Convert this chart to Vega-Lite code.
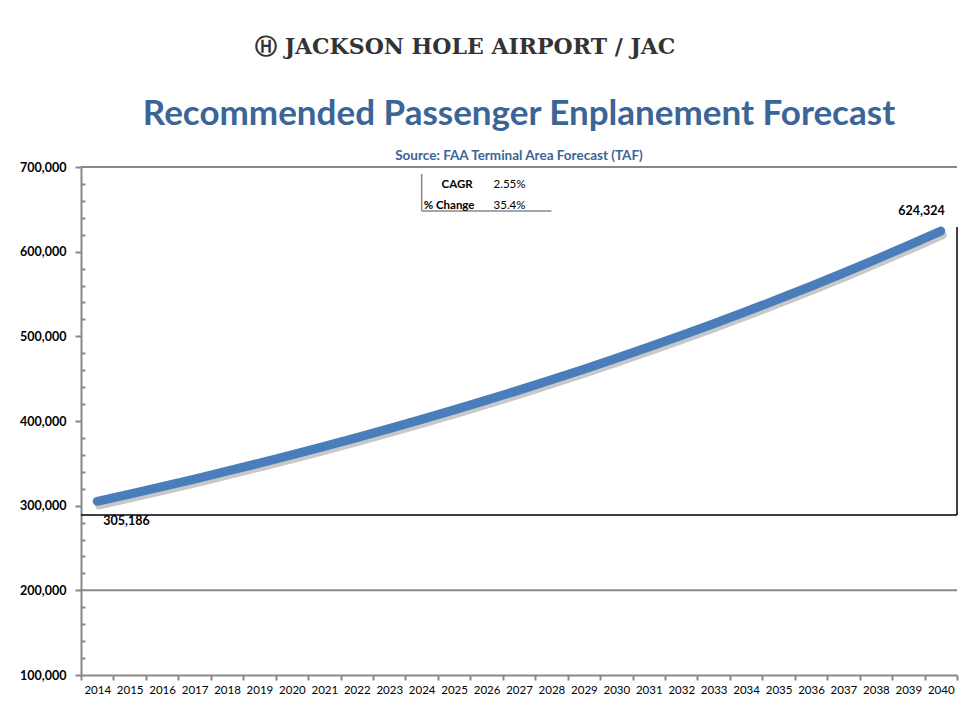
{
  "$schema": "https://vega.github.io/schema/vega-lite/v6.json",
  "background": "white",
  "padding": {"left": 19, "top": 35, "right": 0, "bottom": 5},
  "title": {"text": "Ⓗ JACKSON HOLE AIRPORT / JAC", "font": "DejaVu Serif", "fontSize": 22, "fontWeight": "bold", "color": "#333333", "anchor": "middle", "offset": 38, "dx": -24},
  "datasets": {
    "enp": [
      {"year": 2014, "enplanements": 305186},
      {"year": 2015, "enplanements": 313703},
      {"year": 2016, "enplanements": 322458},
      {"year": 2017, "enplanements": 331458},
      {"year": 2018, "enplanements": 340709},
      {"year": 2019, "enplanements": 350218},
      {"year": 2020, "enplanements": 359992},
      {"year": 2021, "enplanements": 370039},
      {"year": 2022, "enplanements": 380366},
      {"year": 2023, "enplanements": 390982},
      {"year": 2024, "enplanements": 401894},
      {"year": 2025, "enplanements": 413110},
      {"year": 2026, "enplanements": 424639},
      {"year": 2027, "enplanements": 436490},
      {"year": 2028, "enplanements": 448672},
      {"year": 2029, "enplanements": 461194},
      {"year": 2030, "enplanements": 474065},
      {"year": 2031, "enplanements": 487296},
      {"year": 2032, "enplanements": 500896},
      {"year": 2033, "enplanements": 514875},
      {"year": 2034, "enplanements": 529245},
      {"year": 2035, "enplanements": 544016},
      {"year": 2036, "enplanements": 559199},
      {"year": 2037, "enplanements": 574806},
      {"year": 2038, "enplanements": 590848},
      {"year": 2039, "enplanements": 607338},
      {"year": 2040, "enplanements": 624324}
    ]
  },
  "vconcat": [
    {
      "width": 876,
      "height": 508,
      "title": {
        "text": "Recommended Passenger Enplanement Forecast",
        "subtitle": "Source: FAA Terminal Area Forecast (TAF)",
        "font": "Lato", "fontSize": 35, "fontWeight": "bold", "color": "#3b6497",
        "subtitleFont": "Lato", "subtitleFontSize": 13.5, "subtitleFontWeight": "bold", "subtitleColor": "#3b6497",
        "subtitlePadding": 17, "offset": -1, "anchor": "middle"
      },
      "data": {"name": "enp"},
      "encoding": {
        "x": {
          "field": "year", "type": "ordinal",
          "scale": {"type": "band", "paddingInner": 0, "paddingOuter": 0},
          "axis": {"title": null, "labelAngle": 0, "tickBand": "extent", "labelFont": "Lato", "labelFontSize": 11.5, "labelColor": "#000000", "tickSize": 5, "tickColor": "#888888", "domainColor": "#888888", "domainWidth": 2, "tickWidth": 2, "labelPadding": 4, "grid": false}
        },
        "y": {
          "field": "enplanements", "type": "quantitative",
          "scale": {"domain": [100000, 700000], "nice": false, "zero": false},
          "axis": {
            "title": null,
            "values": [100000, 120000, 140000, 160000, 180000, 200000, 220000, 240000, 260000, 280000, 300000, 320000, 340000, 360000, 380000, 400000, 420000, 440000, 460000, 480000, 500000, 520000, 540000, 560000, 580000, 600000, 620000, 640000, 660000, 680000, 700000],
            "labelExpr": "datum.value % 100000 === 0 ? format(datum.value, ',') : ''",
            "labelFont": "Lato", "labelFontSize": 12.5, "labelFontWeight": "bold", "labelColor": "#000000",
            "tickSize": {"condition": {"test": "datum.value % 100000 === 0", "value": 6}, "value": -4},
            "tickColor": "#888888", "tickWidth": 2, "domainColor": "#888888", "domainWidth": 2, "labelPadding": 9, "grid": false
          }
        }
      },
      "layer": [
        {
          "transform": [{"filter": "datum.year == 2014"}],
          "mark": {"type": "rule", "color": "#888888", "strokeWidth": 2},
          "encoding": {"y": {"datum": 200000}, "x": null}
        },
        {
          "transform": [{"filter": "datum.year == 2014"}],
          "mark": {"type": "rule", "color": "#888888", "strokeWidth": 2},
          "encoding": {"y": {"datum": 700000}, "x": null}
        },
        {
          "transform": [{"filter": "datum.year == 2014"}],
          "mark": {"type": "rule", "color": "#000000", "strokeWidth": 1.5},
          "encoding": {"y": {"datum": 289100}, "x": null}
        },
        {
          "transform": [{"filter": "datum.year == 2014"}],
          "mark": {"type": "rule", "color": "#000000", "strokeWidth": 1.5},
          "encoding": {"x": {"datum": 2040, "bandPosition": 1}, "y": {"datum": 629000}, "y2": {"datum": 289100}}
        },
        {
          "mark": {"type": "line", "color": "#9a9a9a", "strokeWidth": 8, "opacity": 0.55, "xOffset": 2, "yOffset": 4, "strokeCap": "round"}
        },
        {
          "mark": {"type": "line", "color": "#4a7ebb", "strokeWidth": 9, "strokeCap": "round"}
        },
        {
          "transform": [{"filter": "datum.year == 2014"}],
          "mark": {"type": "text", "font": "Lato", "fontSize": 12.5, "fontWeight": "bold", "color": "#000000", "align": "left", "baseline": "middle", "dx": 6, "dy": 20},
          "encoding": {"text": {"field": "enplanements", "type": "quantitative", "format": ","}}
        },
        {
          "transform": [{"filter": "datum.year == 2040"}],
          "mark": {"type": "text", "font": "Lato", "fontSize": 12.5, "fontWeight": "bold", "color": "#000000", "align": "right", "baseline": "middle", "dx": 4, "dy": -20},
          "encoding": {"text": {"field": "enplanements", "type": "quantitative", "format": ","}}
        },
        {
          "transform": [{"filter": "datum.year == 2014"}],
          "mark": {"type": "rule", "color": "#888888", "strokeWidth": 1.5},
          "encoding": {"x": {"datum": 2024}, "y": {"datum": 691700}, "y2": {"datum": 648000}}
        },
        {
          "transform": [{"filter": "datum.year == 2014"}],
          "mark": {"type": "rule", "color": "#888888", "strokeWidth": 1.5},
          "encoding": {"x": {"datum": 2024}, "x2": {"datum": 2028}, "y": {"datum": 648000}}
        },
        {
          "transform": [{"filter": "datum.year == 2014"}],
          "mark": {"type": "text", "font": "Lato", "fontSize": 11.5, "fontWeight": "bold", "color": "#000000", "align": "center", "baseline": "middle", "dx": 3},
          "encoding": {"x": {"datum": 2025}, "y": {"datum": 678700}, "text": {"value": "CAGR"}}
        },
        {
          "transform": [{"filter": "datum.year == 2014"}],
          "mark": {"type": "text", "font": "Lato", "fontSize": 11.5, "color": "#000000", "align": "left", "baseline": "middle", "dx": 7},
          "encoding": {"x": {"datum": 2026}, "y": {"datum": 678700}, "text": {"value": "2.55%"}}
        },
        {
          "transform": [{"filter": "datum.year == 2014"}],
          "mark": {"type": "text", "font": "Lato", "fontSize": 11.5, "fontWeight": "bold", "color": "#000000", "align": "center", "baseline": "middle", "dx": -5},
          "encoding": {"x": {"datum": 2025}, "y": {"datum": 653900}, "text": {"value": "% Change"}}
        },
        {
          "transform": [{"filter": "datum.year == 2014"}],
          "mark": {"type": "text", "font": "Lato", "fontSize": 11.5, "color": "#000000", "align": "left", "baseline": "middle", "dx": 7},
          "encoding": {"x": {"datum": 2026}, "y": {"datum": 653900}, "text": {"value": "35.4%"}}
        }
      ]
    }
  ],
  "config": {"view": {"stroke": null}, "concat": {"spacing": 0}}
}
